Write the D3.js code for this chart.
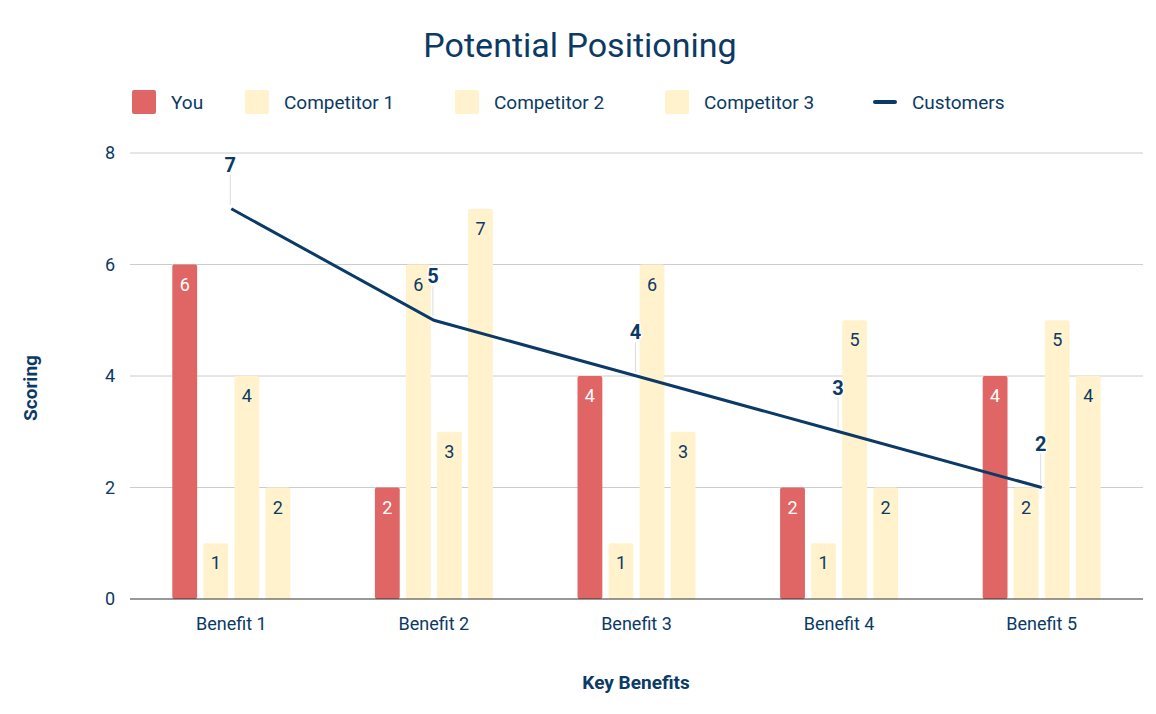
<!DOCTYPE html>
<html><head><meta charset="utf-8">
<script src="https://cdn.jsdelivr.net/npm/d3@7"></script>
<style>body{margin:0;background:#fff}text{font-family:Roboto,"Liberation Sans",sans-serif}</style>
</head><body>
<svg id="chart" width="1156" height="714"></svg>
<script>
const categories = ["Benefit 1", "Benefit 2", "Benefit 3", "Benefit 4", "Benefit 5"];
const seriesNames = ["You", "Competitor 1", "Competitor 2", "Competitor 3"];
const you = [6, 2, 4, 2, 4];
const competitor1 = [1, 6, 1, 1, 2];
const competitor2 = [4, 3, 6, 5, 5];
const competitor3 = [2, 7, 3, 2, 4];
const customers = [7, 5, 4, 3, 2];
const yTicks = [0, 2, 4, 6, 8];

const navy = "#0b3a66";
const colors = ["#e06666", "#fff2cc", "#fff2cc", "#fff2cc"];
const svg = d3.select("#chart");
const plotLeft = 130, plotRight = 1143, plotTop = 153, plotBottom = 599;

const x = d3.scaleBand().domain(categories).range([plotLeft, plotRight]);
const x1 = d3.scaleBand().domain(seriesNames).range([0, 118]).paddingInner(0.2);
const y = d3.scaleLinear().domain([0, 8]).range([plotBottom, plotTop]);

svg.append("text").attr("x", 580).attr("y", 57).attr("text-anchor", "middle")
  .attr("font-size", 34).attr("fill", navy).text("Potential Positioning");

// grid
svg.append("g").selectAll("line").data(yTicks.slice(1)).join("line")
  .attr("x1", plotLeft).attr("x2", plotRight).attr("y1", d => y(d)).attr("y2", d => y(d))
  .attr("stroke", "#cccccc");
svg.append("g").selectAll("text").data(yTicks).join("text")
  .attr("x", 115).attr("y", d => y(d) + 6).attr("text-anchor", "end")
  .attr("font-size", 18).attr("fill", navy).text(d => d);

const series = [you, competitor1, competitor2, competitor3];
const groups = svg.append("g").selectAll("g").data(categories).join("g")
  .attr("transform", c => `translate(${x(c) + x.bandwidth() / 2 - 59},0)`);
seriesNames.forEach((s, si) => {
  groups.append("rect")
    .attr("x", x1(s)).attr("width", x1.bandwidth())
    .attr("y", (c, i) => y(series[si][i])).attr("height", (c, i) => plotBottom - y(series[si][i]))
    .attr("fill", colors[si]).attr("rx", 2);
  groups.append("text")
    .attr("x", x1(s) + x1.bandwidth() / 2).attr("y", (c, i) => y(series[si][i]) + 26)
    .attr("text-anchor", "middle").attr("font-size", 18)
    .attr("fill", si === 0 ? "#fff" : navy).text((c, i) => series[si][i]);
});

svg.append("line").attr("x1", plotLeft).attr("x2", plotRight).attr("y1", plotBottom).attr("y2", plotBottom)
  .attr("stroke", "#333");
svg.append("g").selectAll("text").data(categories).join("text")
  .attr("x", c => x(c) + x.bandwidth() / 2).attr("y", 630).attr("text-anchor", "middle")
  .attr("font-size", 18).attr("fill", navy).text(c => c);

// customers line
const line = d3.line().x((d, i) => x(categories[i]) + x.bandwidth() / 2).y(d => y(d));
svg.append("path").datum(customers).attr("d", line).attr("fill", "none")
  .attr("stroke", navy).attr("stroke-width", 3);
const cl = svg.append("g").selectAll("g").data(customers).join("g")
  .attr("transform", (d, i) => `translate(${x(categories[i]) + x.bandwidth() / 2 - 1},${y(d)})`);
cl.append("line").attr("y1", -4).attr("y2", -34).attr("stroke", "#ddd");
cl.append("text").attr("y", -37).attr("text-anchor", "middle").attr("font-size", 20)
  .attr("font-weight", "bold").attr("fill", navy)
  .attr("stroke", "#fff").attr("stroke-width", 3).attr("paint-order", "stroke").text(d => d);

// legend
const legend = [
  { name: "You", color: colors[0], x: 132 },
  { name: "Competitor 1", color: colors[1], x: 245 },
  { name: "Competitor 2", color: colors[2], x: 455 },
  { name: "Competitor 3", color: colors[3], x: 665 },
  { name: "Customers", color: navy, x: 873, line: true }
];
const lg = svg.append("g").selectAll("g").data(legend).join("g")
  .attr("transform", d => `translate(${d.x},102)`);
lg.append("rect").attr("y", d => d.line ? -2 : -12).attr("width", 24)
  .attr("height", d => d.line ? 4 : 24).attr("fill", d => d.color).attr("rx", 2);
lg.append("text").attr("x", 39).attr("y", 7).attr("font-size", 19).attr("fill", navy).text(d => d.name);

svg.append("text").attr("transform", "translate(37,388) rotate(-90)").attr("text-anchor", "middle")
  .attr("font-size", 19).attr("font-weight", "bold").attr("fill", navy).text("Scoring");
svg.append("text").attr("x", 636).attr("y", 689).attr("text-anchor", "middle")
  .attr("font-size", 19).attr("font-weight", "bold").attr("fill", navy).text("Key Benefits");
</script>
</body></html>
